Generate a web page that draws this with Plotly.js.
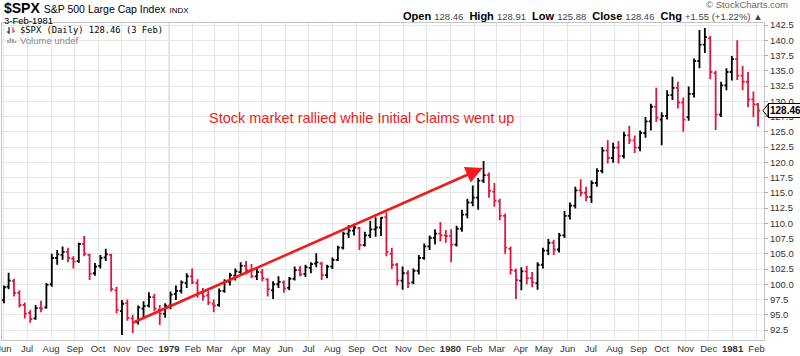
<!DOCTYPE html>
<html><head><meta charset="utf-8">
<script src="https://cdn.plot.ly/plotly-3.0.1.min.js"></script>
<style>html,body{margin:0;padding:0;background:#fff}#chart{width:800px;height:356px}</style>
</head><body><div id="chart"></div>
<script>
// Weekly OHLC (S&P 500, Jun 1978 - Feb 1981)
const weekDates = [
"1978-06-01","1978-06-07","1978-06-14","1978-06-21","1978-06-28","1978-07-05","1978-07-12","1978-07-19","1978-07-26",
"1978-08-02","1978-08-09","1978-08-16","1978-08-23","1978-08-30","1978-09-06","1978-09-13","1978-09-20","1978-09-27",
"1978-10-04","1978-10-11","1978-10-18","1978-10-25","1978-11-01","1978-11-08","1978-11-15","1978-11-22","1978-11-29",
"1978-12-06","1978-12-13","1978-12-20","1978-12-27","1979-01-03","1979-01-10","1979-01-17","1979-01-24","1979-01-31",
"1979-02-07","1979-02-14","1979-02-21","1979-02-28","1979-03-07","1979-03-14","1979-03-21","1979-03-28","1979-04-04",
"1979-04-11","1979-04-18","1979-04-25","1979-05-02","1979-05-09","1979-05-16","1979-05-23","1979-05-30","1979-06-06",
"1979-06-13","1979-06-20","1979-06-27","1979-07-04","1979-07-11","1979-07-18","1979-07-25","1979-08-01","1979-08-08",
"1979-08-15","1979-08-22","1979-08-29","1979-09-05","1979-09-12","1979-09-19","1979-09-26","1979-10-03","1979-10-10",
"1979-10-17","1979-10-24","1979-10-31","1979-11-07","1979-11-14","1979-11-21","1979-11-28","1979-12-05","1979-12-12",
"1979-12-19","1979-12-26","1980-01-02","1980-01-09","1980-01-16","1980-01-23","1980-01-30","1980-02-06","1980-02-13",
"1980-02-20","1980-02-27","1980-03-05","1980-03-12","1980-03-19","1980-03-26","1980-04-02","1980-04-09","1980-04-16",
"1980-04-23","1980-04-30","1980-05-07","1980-05-14","1980-05-21","1980-05-28","1980-06-04","1980-06-11","1980-06-18",
"1980-06-25","1980-07-02","1980-07-09","1980-07-16","1980-07-23","1980-07-30","1980-08-06","1980-08-13","1980-08-20",
"1980-08-27","1980-09-03","1980-09-10","1980-09-17","1980-09-24","1980-10-01","1980-10-08","1980-10-15","1980-10-22",
"1980-10-29","1980-11-05","1980-11-12","1980-11-19","1980-11-26","1980-12-03","1980-12-10","1980-12-17","1980-12-24",
"1980-12-31","1981-01-07","1981-01-14","1981-01-21","1981-01-28","1981-02-03"];
const opens = [
97.4,99.6,100.5,98.6,96.6,95.3,94.4,96.1,96.2,
100.0,104.3,104.8,105.3,104.2,103.8,106.6,104.8,101.8,
103.0,104.4,104.8,99.0,95.6,96.9,94.4,93.8,96.0,
96.5,97.9,95.8,95.2,96.5,98.4,98.9,100.2,101.3,
100.2,98.6,98.2,96.8,96.6,98.9,100.4,101.4,102.0,
103.0,102.3,101.3,102.0,100.8,99.0,100.0,100.3,99.4,
100.9,102.3,101.7,102.7,103.4,103.4,101.5,102.9,104.0,
106.0,108.3,108.8,109.2,106.4,108.0,109.0,109.3,111.0,
105.0,103.2,100.6,101.8,100.3,102.2,104.3,106.2,107.6,
108.3,108.0,107.9,106.5,109.1,111.4,113.4,114.2,117.0,
117.9,115.2,113.6,111.2,105.8,102.2,100.6,102.1,101.0,
100.2,103.2,105.5,106.8,105.7,108.0,111.2,112.9,115.4,
115.0,114.3,116.6,118.6,121.9,120.7,122.4,121.0,124.4,
123.6,122.4,124.8,126.7,129.1,127.0,127.6,131.0,132.2,
129.8,127.4,131.2,136.6,139.3,140.3,134.6,127.8,132.6,
134.8,136.9,134.2,133.2,130.3,129.5];
const highs = [
99.8,101.9,100.9,99.0,97.0,95.8,96.6,97.3,100.2,
105.0,105.6,106.2,106.0,104.6,106.8,107.9,105.0,103.5,
104.8,105.8,105.0,99.6,97.4,97.5,95.0,96.5,97.2,
98.7,98.4,96.6,96.9,98.8,99.8,100.6,101.8,102.6,
100.8,99.4,98.9,97.5,99.3,100.8,101.9,102.6,103.6,
103.8,103.3,102.8,102.5,101.0,100.5,101.3,100.6,101.2,
102.9,103.0,103.2,103.6,105.1,103.7,103.2,104.4,106.3,
108.6,109.7,109.9,109.4,108.6,110.4,111.0,111.0,111.8,
106.0,103.5,102.9,102.3,102.6,104.8,106.7,108.0,109.0,
110.2,108.9,109.0,109.6,112.2,114.0,116.2,117.4,120.2,
118.3,116.6,114.0,111.6,106.2,102.6,102.8,103.0,102.0,
103.6,106.0,107.4,107.3,108.4,112.0,113.4,116.0,117.2,
116.0,117.0,119.0,122.5,123.6,123.2,123.5,125.0,126.0,
124.4,125.2,127.4,129.6,132.2,128.2,131.8,134.0,133.2,
130.6,132.4,137.0,141.7,142.0,140.7,135.0,133.2,135.4,
137.4,140.0,135.8,134.8,131.6,129.7];
const lows = [
96.9,99.2,98.0,96.2,94.4,93.7,94.2,95.4,96.0,
99.6,103.2,104.0,103.6,102.6,103.5,104.6,100.7,101.4,
102.6,103.8,98.8,95.2,91.7,94.0,92.0,93.4,94.6,
96.2,95.6,93.3,94.5,95.9,97.4,98.5,99.4,100.0,
97.8,97.3,96.6,95.4,96.3,98.6,99.8,100.6,101.5,
101.6,101.0,100.7,100.5,98.0,97.6,99.4,98.6,99.0,
100.6,101.3,101.2,101.8,102.8,100.7,101.0,102.5,103.8,
105.7,107.6,108.0,105.6,106.2,107.6,107.8,107.9,104.6,
102.5,99.8,99.1,99.4,100.0,101.6,104.0,105.6,106.5,
107.0,106.8,103.6,106.2,108.6,110.8,112.8,112.2,116.6,
114.2,112.7,110.5,105.0,101.6,97.6,99.0,100.0,99.5,
99.1,102.6,104.8,104.8,105.2,107.6,110.6,112.4,114.4,
113.6,113.3,116.0,118.2,119.8,119.9,119.8,120.6,123.0,
121.5,121.8,124.0,125.2,126.6,122.8,127.0,130.2,128.8,
125.0,126.8,130.6,135.4,137.9,133.6,125.3,127.4,131.8,
133.4,133.5,131.8,129.0,127.4,125.88];
const closes = [
99.5,100.6,98.6,96.6,95.2,94.3,96.1,96.0,99.9,
104.3,104.9,105.3,104.3,103.7,106.6,105.0,101.7,102.9,
104.3,104.9,99.2,95.8,96.8,94.5,93.7,96.2,96.4,
97.9,96.0,95.2,96.5,98.3,98.9,100.3,101.3,100.3,
98.6,98.0,97.0,96.5,98.9,100.4,101.5,102.1,103.0,
102.3,101.3,102.0,101.0,99.2,100.0,100.4,99.3,100.9,
102.3,101.6,102.8,103.3,103.6,101.5,102.9,104.0,106.0,
108.3,108.8,109.3,106.4,108.0,109.0,109.3,110.9,105.3,
103.2,100.6,101.8,100.2,102.2,104.3,106.2,107.6,108.3,
108.0,107.9,106.5,109.1,111.4,113.4,114.2,117.0,117.9,
115.3,113.7,111.2,106.0,102.3,100.7,102.1,101.0,100.3,
103.2,105.5,106.8,105.7,108.0,111.2,112.9,115.4,115.0,
114.3,116.6,118.6,121.9,120.7,122.4,121.0,124.4,123.6,
122.4,124.8,126.7,129.1,127.3,127.6,131.0,132.2,129.8,
127.0,131.2,136.6,139.3,140.5,134.8,127.8,132.6,134.8,
136.9,134.2,133.2,130.3,129.5,128.46];

const monthTickDates = [
"1978-06-01","1978-07-01","1978-08-01","1978-09-01","1978-10-01","1978-11-01","1978-12-01",
"1979-01-01","1979-02-01","1979-03-01","1979-04-01","1979-05-01","1979-06-01","1979-07-01","1979-08-01","1979-09-01","1979-10-01","1979-11-01","1979-12-01",
"1980-01-01","1980-02-01","1980-03-01","1980-04-01","1980-05-01","1980-06-01","1980-07-01","1980-08-01","1980-09-01","1980-10-01","1980-11-01","1980-12-01",
"1981-01-01","1981-02-01"];
const monthTickLabels = [
"Jun","Jul","Aug","Sep","Oct","Nov","Dec",
"<b>1979</b>","Feb","Mar","Apr","May","Jun","Jul","Aug","Sep","Oct","Nov","Dec",
"<b>1980</b>","Feb","Mar","Apr","May","Jun","Jul","Aug","Sep","Oct","Nov","Dec",
"<b>1981</b>","Feb"];
const yearLineDates = ["1979-01-01","1980-01-01","1981-01-01"];
const yTickValues = [92.5,95,97.5,100,102.5,105,107.5,110,112.5,115,117.5,120,122.5,125,127.5,130,132.5,135,137.5,140,142.5];
const yTickLabels = ["92.5","95.0","97.5","100.0","102.5","105.0","107.5","110.0","112.5","115.0","117.5","120.0","122.5","125.0","127.5","130.0","132.5","135.0","137.5","140.0","142.5"];
const lastPrice = 128.46;

const W=800,H=356,ML=2,MR=36,MT=23,MB=16;
const PW=W-ML-MR, PH=H-MT-MB;
const px = x => (x-ML)/PW;
const py = y => (H-MB-y)/PH;
const RED = '#f01b1b';
const BARRED = '#e0163f';
const SANS = 'Liberation Sans, Arial, sans-serif';

const trace = {
  type:'ohlc', x:weekDates, open:opens, high:highs, low:lows, close:closes,
  increasing:{line:{color:'#000000',width:1.8}},
  decreasing:{line:{color:BARRED,width:1.8}},
  tickwidth:0.45, hoverinfo:'skip', showlegend:false
};

const shapes = yearLineDates.map(d => ({type:'line', xref:'x', yref:'paper', x0:d, x1:d, y0:0, y1:1,
  line:{color:'#c9c9c9', width:1}, layer:'below'}));
// legend glyphs
shapes.push({type:'line', xref:'paper', yref:'paper', x0:px(9), x1:px(9), y0:py(34), y1:py(27), line:{color:'#000',width:1}});
shapes.push({type:'line', xref:'paper', yref:'paper', x0:px(7), x1:px(9), y0:py(32), y1:py(32), line:{color:'#000',width:1}});
shapes.push({type:'line', xref:'paper', yref:'paper', x0:px(13), x1:px(13), y0:py(33), y1:py(27), line:{color:BARRED,width:1}});
shapes.push({type:'line', xref:'paper', yref:'paper', x0:px(13), x1:px(15), y0:py(31), y1:py(31), line:{color:BARRED,width:1}});
[[8,3],[10.5,5],[13,4],[15.5,2]].forEach(([x,h]) => shapes.push({type:'rect', xref:'paper', yref:'paper',
  x0:px(x-0.8), x1:px(x+0.8), y0:py(43), y1:py(43-h), line:{width:0}, fillcolor:'#9a9a9a'}));
// price tag notch
shapes.push({type:'path', xref:'paper', yref:'y',
  path:`M ${px(763)} ${lastPrice} L ${px(768)} ${lastPrice+1.05} L ${px(768)} ${lastPrice-1.05} Z`,
  fillcolor:'#fff', line:{color:'#000',width:1}});

const annotations = [
  {xref:'paper', yref:'paper', x:px(2), y:py(8), xanchor:'left', yanchor:'middle', showarrow:false,
   text:"<b>$SPX</b> <span style='font-size:10.5px'>S&P 500 Large Cap Index</span> <span style='font-size:8px'>INDX</span>",
   font:{family:SANS, size:14, color:'#000'}},
  {xref:'paper', yref:'paper', x:px(2), y:py(20), xanchor:'left', yanchor:'middle', showarrow:false,
   text:"3-Feb-1981", font:{family:SANS, size:9.5, color:'#000'}},
  {xref:'paper', yref:'paper', x:px(790), y:py(5), xanchor:'right', yanchor:'middle', showarrow:false,
   text:"© StockCharts.com", font:{family:SANS, size:9.5, color:'#666'}},
  {xref:'paper', yref:'paper', x:px(765), y:py(16), xanchor:'right', yanchor:'middle', showarrow:false,
   text:"<b>Open</b> <span style='font-size:9.5px;fill:#444'>128.46</span>  <b>High</b> <span style='font-size:9.5px;fill:#444'>128.91</span>  <b>Low</b> <span style='font-size:9.5px;fill:#444'>125.88</span>  <b>Close</b> <span style='font-size:9.5px;fill:#444'>128.46</span>  <b>Chg</b> <span style='font-size:9.5px;fill:#444'>+1.55 (+1.22%) ▲</span>",
   font:{family:SANS, size:11, color:'#000'}},
  {xref:'paper', yref:'paper', x:px(18), y:py(30.5), xanchor:'left', yanchor:'middle', showarrow:false,
   text:"$SPX (Daily) 128.46 (3 Feb)", font:{family:'DejaVu Sans Mono, monospace', size:8.8, color:'#000'}},
  {xref:'paper', yref:'paper', x:px(18), y:py(40), xanchor:'left', yanchor:'middle', showarrow:false,
   text:"Volume undef", font:{family:SANS, size:9.5, color:'#888'}},
  {xref:'paper', yref:'paper', x:px(361), y:py(118), xanchor:'center', yanchor:'middle', showarrow:false,
   text:"Stock market rallied while Initial Claims went up", font:{family:SANS, size:14.5, color:RED}},
  {xref:'x', yref:'y', x:'1980-02-11 22:00', y:119.06, axref:'x', ayref:'y', ax:'1978-11-15 05:00', ay:93.7,
   showarrow:true, arrowhead:2, arrowsize:1.3, arrowwidth:2.6, arrowcolor:RED, standoff:0, startstandoff:0, text:''},
  {xref:'paper', yref:'y', x:px(768), y:lastPrice, xanchor:'left', yanchor:'middle', showarrow:false,
   text:"<b>128.46</b>", font:{family:SANS, size:10, color:'#000'}, bgcolor:'#fff', bordercolor:'#000', borderwidth:1, borderpad:1}
];

const layout = {
  width:W, height:H, margin:{l:ML, r:MR, t:MT, b:MB, pad:0},
  paper_bgcolor:'#fff', plot_bgcolor:'#fff', showlegend:false,
  font:{family:SANS, color:'#333', size:10},
  xaxis:{type:'date', range:['1978-05-29 10:00','1981-02-10 17:00'], tickmode:'array',
    tickvals:monthTickDates, ticktext:monthTickLabels, showgrid:true, gridcolor:'#e6e6e6', gridwidth:1,
    showline:true, linecolor:'#c4c4c4', linewidth:1, mirror:true, ticks:'', tickfont:{size:9.5, color:'#333', family:SANS},
    ticklabeloverflow:'allow', rangeslider:{visible:false}, zeroline:false, fixedrange:true, automargin:false},
  yaxis:{side:'right', range:[90.86,142.83], tickmode:'array', tickvals:yTickValues, ticktext:yTickLabels,
    showgrid:true, gridcolor:'#e6e6e6', gridwidth:1, showline:true, linecolor:'#c4c4c4', linewidth:1, mirror:true,
    ticks:'outside', ticklen:3, tickcolor:'#aaaaaa', tickfont:{size:9.5, color:'#333', family:SANS},
    zeroline:false, fixedrange:true, automargin:false},
  shapes:shapes, annotations:annotations
};

Plotly.newPlot('chart', [trace], layout, {staticPlot:true, displayModeBar:false});
</script></body></html>
